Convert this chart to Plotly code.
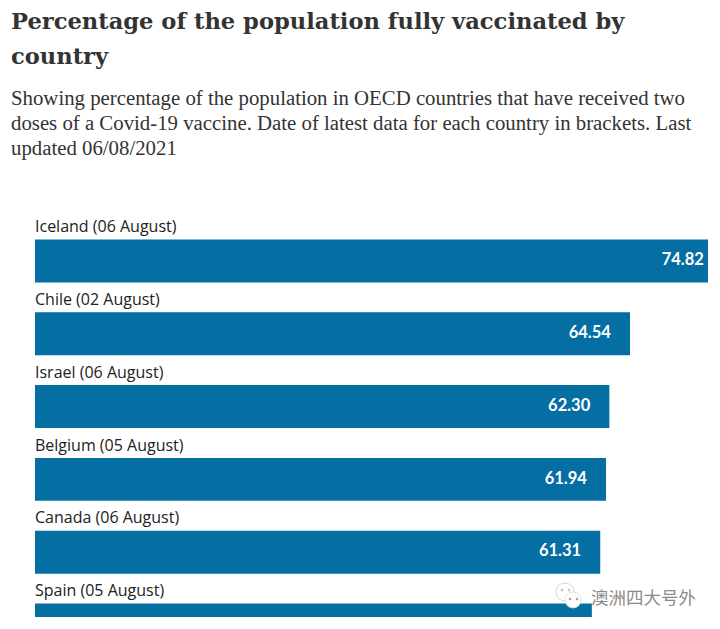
import plotly.graph_objects as go

countries = ["Iceland (06 August)", "Chile (02 August)", "Israel (06 August)",
             "Belgium (05 August)", "Canada (06 August)", "Spain (05 August)"]
values = [74.82, 64.54, 62.30, 61.94, 61.31, 60.40]
title_lines = ["Percentage of the population fully vaccinated by", "country"]
subtitle_lines = ["Showing percentage of the population in OECD countries that have received two",
                  "doses of a Covid-19 vaccine. Date of latest data for each country in brackets. Last",
                  "updated 06/08/2021"]
watermark = "澳洲四大号外"

W, H = 720, 629
L, R, T, B = 35, 12, 210, 12
XMAX = 73.0
BAR = "#056ea3"
positions = list(range(len(countries)))

def px(x): return (x - L) / (W - L - R)
def py(y): return 1 - (y - T) / (H - T - B)

fig = go.Figure()
fig.add_trace(go.Bar(x=values, y=positions, orientation="h", width=0.59,
                     marker=dict(color=BAR, line=dict(width=0)), hoverinfo="skip"))
# value labels, just inside the bar end; the last bar's label falls below the crop in the reference
fig.add_trace(go.Scatter(x=[min(v - 2.07, 72.55) for v in values[:-1]], y=positions[:-1], mode="text",
                         text=[f"{v:.2f}" for v in values[:-1]], textposition="middle left",
                         textfont=dict(family="Lato, Open Sans, sans-serif", size=16.5, color="white", weight="bold"),
                         hoverinfo="skip"))
# country labels above each bar
fig.add_trace(go.Scatter(x=[0] * len(countries), y=[p - 0.45 for p in positions], mode="text",
                         text=countries, textposition="middle right",
                         textfont=dict(family="Open Sans, sans-serif", size=16, color="#222222"),
                         hoverinfo="skip"))

ann = []
for t, y in zip(title_lines, [21, 56]):
    ann.append(dict(text=f"<b>{t}</b>", x=px(10), y=py(y),
                    font=dict(family="DejaVu Serif, serif", size=22.6, color="#333333")))
for t, y in zip(subtitle_lines, [98, 123, 148]):
    ann.append(dict(text=t, x=px(10), y=py(y),
                    font=dict(family="Liberation Serif, serif", size=20.8, color="#333333")))
ann.append(dict(text=watermark, x=px(590), y=py(596),
                font=dict(family="Noto Sans CJK SC, sans-serif", size=17.5, color="#8a8a8a")))
for a in ann:
    a.update(xref="paper", yref="paper", xanchor="left", yanchor="middle", showarrow=False, borderpad=0)

# WeChat-style mark of the watermark
def circle(cx, cy, r, fill, line):
    return dict(type="circle", xref="paper", yref="paper", layer="above",
                x0=px(cx - r), x1=px(cx + r), y0=py(cy + r), y1=py(cy - r),
                fillcolor=fill, line=dict(color=line, width=0.8))
shapes = [circle(565, 592, 9, "white", "#c9c9c9"), circle(573, 600, 8, "white", "#d5d5d5"),
          circle(562, 590, 1, "#bbbbbb", "#bbbbbb"), circle(569, 590, 1, "#bbbbbb", "#bbbbbb"),
          circle(570, 599, 0.9, "#999999", "#999999"), circle(577, 599, 0.9, "#999999", "#999999")]

fig.update_layout(width=W, height=H, autosize=False, showlegend=False,
                  margin=dict(l=L, r=R, t=T, b=B, pad=0),
                  paper_bgcolor="white", plot_bgcolor="white",
                  annotations=ann, shapes=shapes,
                  xaxis=dict(range=[0, XMAX], visible=False, fixedrange=True),
                  yaxis=dict(range=[4.89, -0.7], visible=False, fixedrange=True))
fig.write_html("out.html", config=dict(displayModeBar=False),
               post_script="document.body.style.margin='0';")
